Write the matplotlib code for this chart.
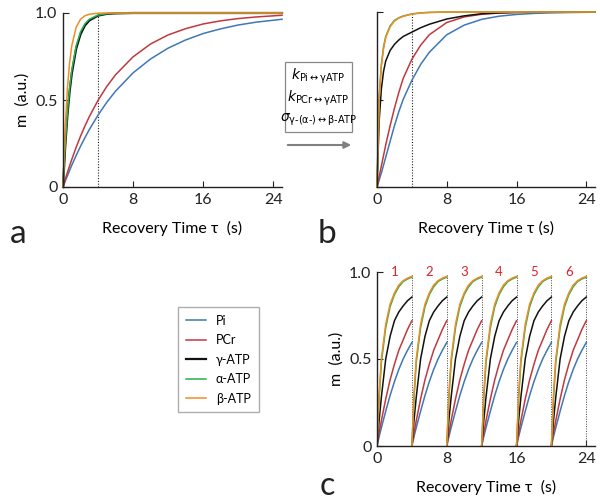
import matplotlib
matplotlib.use('Agg')
import matplotlib.pyplot as plt
from matplotlib.patches import Rectangle

plt.rcParams['font.family'] = ['Lato', 'DejaVu Sans']

W, H = 600, 503

# colours of the five metabolites
names = ['Pi', 'PCr', 'γ-ATP', 'α-ATP', 'β-ATP']
colors = ['#3f78b4', '#c0393f', '#111111', '#25b24f', '#f28c24']

# a) full recovery, no exchange
t_full = [0, 0.25, 0.5, 0.75, 1, 1.5, 2, 2.5, 3, 4, 5, 6, 8, 10, 12, 14, 16, 18, 20, 22, 25]
a_pi = [0, 0.033, 0.064, 0.095, 0.125, 0.181, 0.234, 0.283, 0.330, 0.413, 0.487, 0.551,
        0.656, 0.736, 0.798, 0.845, 0.882, 0.909, 0.931, 0.947, 0.964]
a_pcr = [0, 0.042, 0.083, 0.121, 0.158, 0.228, 0.292, 0.350, 0.404, 0.498, 0.578, 0.645,
         0.748, 0.822, 0.874, 0.910, 0.937, 0.955, 0.968, 0.977, 0.987]
a_gamma = [0, 0.231, 0.409, 0.546, 0.651, 0.794, 0.878, 0.928, 0.957, 0.985, 0.995, 0.998,
           1, 1, 1, 1, 1, 1, 1, 1, 1]
a_alpha = [0, 0.243, 0.426, 0.565, 0.671, 0.811, 0.892, 0.938, 0.964, 0.988, 0.996, 0.999,
           1, 1, 1, 1, 1, 1, 1, 1, 1]
a_beta = [0, 0.341, 0.565, 0.713, 0.811, 0.918, 0.964, 0.984, 0.993, 0.999, 1, 1,
          1, 1, 1, 1, 1, 1, 1, 1, 1]

# b) with chemical exchange / cross relaxation
b_pi = [0, 0.04, 0.08, 0.125, 0.17, 0.26, 0.35, 0.43, 0.50, 0.61, 0.70, 0.77,
        0.87, 0.925, 0.958, 0.976, 0.986, 0.992, 0.995, 0.997, 0.999]
b_pcr = [0, 0.06, 0.12, 0.18, 0.24, 0.35, 0.45, 0.54, 0.62, 0.73, 0.81, 0.87,
         0.94, 0.972, 0.987, 0.994, 0.997, 0.999, 1, 1, 1]
b_gamma = [0, 0.38, 0.56, 0.66, 0.72, 0.78, 0.815, 0.84, 0.86, 0.885, 0.91, 0.93,
           0.96, 0.978, 0.99, 0.995, 0.998, 0.999, 1, 1, 1]
b_alpha = [0, 0.52, 0.70, 0.80, 0.86, 0.92, 0.952, 0.967, 0.977, 0.989, 0.995, 0.998,
           1, 1, 1, 1, 1, 1, 1, 1, 1]
b_beta = [0, 0.50, 0.69, 0.79, 0.855, 0.915, 0.948, 0.965, 0.975, 0.988, 0.994, 0.997,
          1, 1, 1, 1, 1, 1, 1, 1, 1]

# c) repeated saturation, TR = 4 s, six cycles
TR = 4
n_cycles = 6
t_cycle = [0, 0.25, 0.5, 1, 1.5, 2, 2.5, 3, 3.5, 4]
c_pi = [0, 0.055, 0.105, 0.20, 0.29, 0.37, 0.44, 0.50, 0.55, 0.595]
c_pcr = [0, 0.075, 0.145, 0.27, 0.38, 0.47, 0.55, 0.61, 0.67, 0.72]
c_gamma = [0, 0.15, 0.28, 0.50, 0.63, 0.72, 0.77, 0.805, 0.835, 0.856]
c_alpha = [0, 0.28, 0.48, 0.68, 0.80, 0.87, 0.915, 0.945, 0.96, 0.97]
c_beta = [0, 0.30, 0.50, 0.70, 0.815, 0.88, 0.925, 0.95, 0.965, 0.975]

xticks = [0, 8, 16, 24]
yticks = [0, 0.5, 1.0]
yticklabels = ['0', '0.5', '1.0']

fig = plt.figure(figsize=(W / 100, H / 100), dpi=100)


def rect(x0, y0, x1, y1):
    # pixel box -> figure fraction
    return [x0 / W, 1 - y1 / H, (x1 - x0) / W, (y1 - y0) / H]


def style(ax, ylabels=True, ylab=True):
    ax.set_xlim(0, 25)
    ax.set_ylim(0, 1.0)
    for s in ['top', 'right']:
        ax.spines[s].set_visible(False)
    for s in ['left', 'bottom']:
        ax.spines[s].set_color('#222222')
        ax.spines[s].set_linewidth(1.0)
    ax.set_xticks(xticks)
    ax.set_yticks(yticks)
    ax.tick_params(direction='in', length=4, labelsize=11.5, colors='#222222', pad=4)
    if ylabels:
        ax.set_yticklabels(yticklabels)
    else:
        ax.set_yticklabels([])
    if ylab:
        ax.set_ylabel('m  (a.u.)', fontsize=11.5, labelpad=4)
    ax.patch.set_alpha(0)


# panel a
ax_a = fig.add_axes(rect(63, 13, 282, 187))
ax_a.axvline(4, ymin=0, ymax=1, color='#222222', ls=(0, (1, 1.5)), lw=0.8)
lines = []
for ys, c, n in zip([a_pi, a_pcr, a_gamma, a_alpha, a_beta], colors, names):
    ln, = ax_a.plot(t_full, ys, color=c, lw=1.1 if c != '#111111' else 1.6,
                    label=n, clip_on=False)
    lines.append(ln)
style(ax_a)
ax_a.set_xlabel('Recovery Time τ  (s)', fontsize=11.5, labelpad=10)

# panel b
ax_b = fig.add_axes(rect(377, 12, 595, 187))
ax_b.axvline(4, ymin=0, ymax=1, color='#222222', ls=(0, (1, 1.5)), lw=0.8)
for ys, c in zip([b_pi, b_pcr, b_gamma, b_alpha, b_beta], colors):
    ax_b.plot(t_full, ys, color=c, lw=1.1, clip_on=False)
style(ax_b, ylabels=False, ylab=False)
ax_b.set_xlabel('Recovery Time τ (s)', fontsize=11.5, labelpad=10)

# panel c
ax_c = fig.add_axes(rect(377, 272, 595, 446))
for k in range(1, n_cycles + 1):
    ax_c.axvline(k * TR, ymin=0, ymax=0.99, color='#444444', ls=(0, (1, 1.5)), lw=0.7)
for k in range(n_cycles):
    tt = [k * TR + s for s in t_cycle]
    for ys, c in zip([c_pi, c_pcr, c_gamma, c_alpha, c_beta], colors):
        ax_c.plot(tt, ys, color=c, lw=1.1)
    ax_c.text(k * TR + TR / 2, 1.0, str(k + 1), color='#e0202a', fontsize=9.5,
              ha='center', va='center')
style(ax_c)
ax_c.set_xlabel('Recovery Time τ  (s)', fontsize=11.5, labelpad=10)

# panel letters
fig.text(10 / W, 1 - 243 / H, 'a', fontsize=24, color='#222222')
fig.text(318 / W, 1 - 243 / H, 'b', fontsize=24, color='#222222')
fig.text(320 / W, 2 / H, 'c', fontsize=23, color='#222222', va='bottom')

# box with exchange parameters and arrow
fig.patches.append(Rectangle((285 / W, 1 - 132 / H), 67 / W, 70 / H,
                             transform=fig.transFigure, fill=False,
                             edgecolor='#888888', lw=0.9))
box_text = [r'$k_{\rm Pi\leftrightarrow\gamma ATP}$',
            r'$k_{\rm PCr\leftrightarrow\gamma ATP}$',
            r'$\sigma_{\rm \gamma\text{-}(\alpha\text{-})\leftrightarrow\beta\text{-}ATP}$']
for i, s in enumerate(box_text):
    fig.text(318.5 / W, 1 - (76 + 22 * i) / H, s, fontsize=10, ha='center', va='center')
fig.patches.append(matplotlib.patches.FancyArrowPatch(
    (285 / W, 1 - 145 / H), (354 / W, 1 - 145 / H), transform=fig.transFigure,
    arrowstyle='-|>', mutation_scale=10, color='#808080', lw=1.5))

# legend
fig.legend(handles=lines, labels=names, loc='upper left',
           bbox_to_anchor=(172 / W, 1 - 301 / H), fontsize=9, frameon=True,
           fancybox=False, edgecolor='#999999', handlelength=1.6, labelspacing=0.6,
           borderpad=0.6)

fig.savefig('out.png', dpi=100)
